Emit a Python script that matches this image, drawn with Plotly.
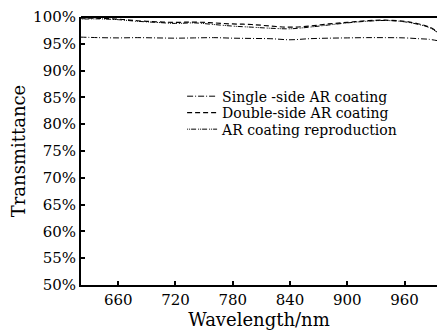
import plotly.graph_objects as go

wl = [620, 640, 660, 680, 700, 720, 740, 760, 780, 800, 820, 840, 860, 880, 900, 920, 940, 960, 975, 985, 994]
single = [96.25, 96.15, 96.1, 96.15, 96.1, 96.05, 96.1, 96.15, 96.05, 96.0, 95.95, 95.75, 95.95, 96.05, 96.1, 96.15, 96.15, 96.1, 95.95, 95.85, 95.6]
double = [99.8, 99.75, 99.6, 99.3, 99.1, 99.0, 99.05, 98.9, 98.7, 98.6, 98.3, 98.1, 98.3, 98.7, 99.0, 99.3, 99.4, 99.2, 98.7, 98.2, 97.3]
repro = [99.6, 99.65, 99.5, 99.2, 99.0, 98.8, 98.9, 98.6, 98.3, 98.1, 97.9, 97.8, 98.1, 98.5, 98.9, 99.2, 99.35, 99.1, 98.6, 98.1, 97.2]

names = ["Single -side AR coating", "Double-side AR coating", "AR coating reproduction"]
xticks = [660, 720, 780, 840, 900, 960]
yticks = [50, 55, 60, 65, 70, 75, 80, 85, 90, 95, 100]

font = "DejaVu Serif, serif"
fig = go.Figure()
fig.add_trace(go.Scatter(x=wl, y=single, mode="lines", name=names[0], legend="legend",
                         line=dict(color="black", width=1, dash="6px,2px,1px,2px"), line_shape="spline"))
fig.add_trace(go.Scatter(x=wl, y=double, mode="lines", name=names[1], legend="legend2",
                         line=dict(color="black", width=1.2, dash="5px,3px"), line_shape="spline"))
fig.add_trace(go.Scatter(x=wl, y=repro, mode="lines", name=names[2], legend="legend3",
                         line=dict(color="black", width=1, dash="1px,1px,1px,1px,5px,2px"), line_shape="spline"))

leg = dict(x=0.284, xanchor="left", yanchor="middle", bgcolor="rgba(0,0,0,0)",
           font=dict(size=14, family=font, color="black"), itemwidth=30, borderwidth=0)
fig.update_layout(
    width=438, height=334,
    margin=dict(l=81, r=1, t=17, b=49),
    paper_bgcolor="white", plot_bgcolor="white",
    font=dict(family=font, size=15, color="black"),
    showlegend=True,
    legend=dict(leg, y=0.703),
    legend2=dict(leg, y=0.642),
    legend3=dict(leg, y=0.580),
    xaxis=dict(range=[621, 994], tickvals=xticks, ticks="inside", ticklen=4, tickcolor="black", tickwidth=1.5,
               showline=True, linecolor="black", linewidth=2, mirror=False, showgrid=False, zeroline=False,
               title=dict(text="Wavelength/nm", standoff=5), tickfont=dict(size=15)),
    yaxis=dict(range=[50, 100], tickvals=yticks, ticktext=[f"{v}%" for v in yticks], ticks="inside", ticklen=4,
               tickcolor="black", tickwidth=1.5, showline=True, linecolor="black", linewidth=2, showgrid=False,
               zeroline=False, title=dict(text="Transmittance", standoff=3), tickfont=dict(size=15)),
)
fig.add_shape(type="line", xref="paper", yref="paper", x0=0, x1=1, y0=1, y1=1,
              line=dict(color="black", width=2))
fig.write_html("out.html")
